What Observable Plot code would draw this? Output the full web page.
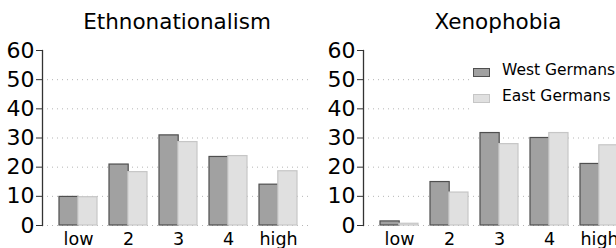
<!DOCTYPE html>
<html>
<head>
<meta charset="utf-8">
<script src="https://cdn.jsdelivr.net/npm/d3@7"></script>
<script src="https://cdn.jsdelivr.net/npm/@observablehq/plot@0.6"></script>
<style>
  html, body { margin: 0; padding: 0; background: #fff; }
  body { width: 616px; height: 248px; overflow: hidden; }
  #wrap { position: relative; width: 616px; height: 248px; overflow: hidden; }
  .panel { position: absolute; top: 0; }
  #legend { position: absolute; left: 469px; top: 60px; width: 160px; height: 54px; background: #fff;
            font-family: "DejaVu Sans", sans-serif; font-size: 15.5px; color: #000; }
  .item { position: absolute; left: 0; white-space: nowrap; }
  .sw { position: absolute; left: 4px; width: 15px; height: 7px; box-sizing: content-box; }
  .lbl { position: absolute; left: 33px; }
</style>
</head>
<body>
<div id="wrap"></div>
<script>
// ---- data ----
const categories = ["low", "2", "3", "4", "high"];
const groups = ["West Germans", "East Germans"];
const ethnoWest = [9.8, 20.9, 30.9, 23.5, 14.0];
const ethnoEast = [9.7, 18.3, 28.6, 23.8, 18.6];
const xenoWest = [1.4, 14.9, 31.7, 30.0, 21.1];
const xenoEast = [0.6, 11.3, 27.9, 31.7, 27.5];
const yTicks = [0, 10, 20, 30, 40, 50, 60];
const gridTicks = [0, 10, 20, 30, 40, 50];
const titles = ["Ethnonationalism", "Xenophobia"];

const fills = {"West Germans": "#a1a1a1", "East Germans": "#e0e0e0"};
const strokes = {"West Germans": "#4f4f4f", "East Germans": "#c6c6c6"};

function panel(title, west, east) {
  const rows = categories.flatMap((c, i) => [
    {cat: c, group: groups[0], value: west[i]},
    {cat: c, group: groups[1], value: east[i]}
  ]);
  const half = 18.8;
  return Plot.plot({
    width: 321, height: 248,
    marginLeft: 42, marginRight: 10, marginTop: 50, marginBottom: 23,
    style: {fontFamily: "DejaVu Sans", color: "#000", background: "transparent", overflow: "visible"},
    x: {domain: categories, range: [52, 303], paddingInner: 0.25, paddingOuter: 0.125, label: null},
    y: {domain: [0, 60], label: null},
    marks: [
      Plot.ruleY(gridTicks, {stroke: "#b5b5b5", strokeDasharray: "1,4", strokeWidth: 1}),
      Plot.barY(rows.filter(d => d.group === groups[0]), {x: "cat", y: "value", insetRight: half,
        fill: fills[groups[0]], stroke: strokes[groups[0]], strokeWidth: 1.2}),
      Plot.barY(rows.filter(d => d.group === groups[1]), {x: "cat", y: "value", insetLeft: half,
        fill: fills[groups[1]], stroke: strokes[groups[1]], strokeWidth: 1.2}),
      Plot.frame({anchor: "left", stroke: "#333", strokeWidth: 1.3, strokeOpacity: 1}),
      Plot.axisY({ticks: yTicks, tickSize: 6, tickPadding: 2, fontSize: 22, stroke: "#333", strokeOpacity: 1, fill: "#000", label: null}),
      Plot.axisX({tickSize: 0, tickPadding: 7, fontSize: 17.5, fill: "#000", label: null}),
      Plot.text([title], {frameAnchor: "top", lineAnchor: "middle", dy: -28.6, fontSize: 21.5, fill: "#000"})
    ]
  });
}

const wrap = document.getElementById("wrap");
const p1 = panel(titles[0], ethnoWest, ethnoEast);
p1.classList.add("panel"); p1.style.left = "0px";
const p2 = panel(titles[1], xenoWest, xenoEast);
p2.classList.add("panel"); p2.style.left = "321px";
wrap.appendChild(p1);
wrap.appendChild(p2);

const legend = document.createElement("div");
legend.id = "legend";
groups.forEach((g, i) => {
  const item = document.createElement("div");
  item.className = "item";
  item.style.top = (i === 0 ? 0 : 26) + "px";
  const sw = document.createElement("div");
  sw.className = "sw";
  sw.style.top = "8px";
  sw.style.background = fills[g];
  sw.style.border = "1px solid " + strokes[g];
  const lbl = document.createElement("div");
  lbl.className = "lbl";
  lbl.style.top = "1px";
  lbl.textContent = g;
  item.appendChild(sw);
  item.appendChild(lbl);
  legend.appendChild(item);
});
wrap.appendChild(legend);
</script>
</body>
</html>
